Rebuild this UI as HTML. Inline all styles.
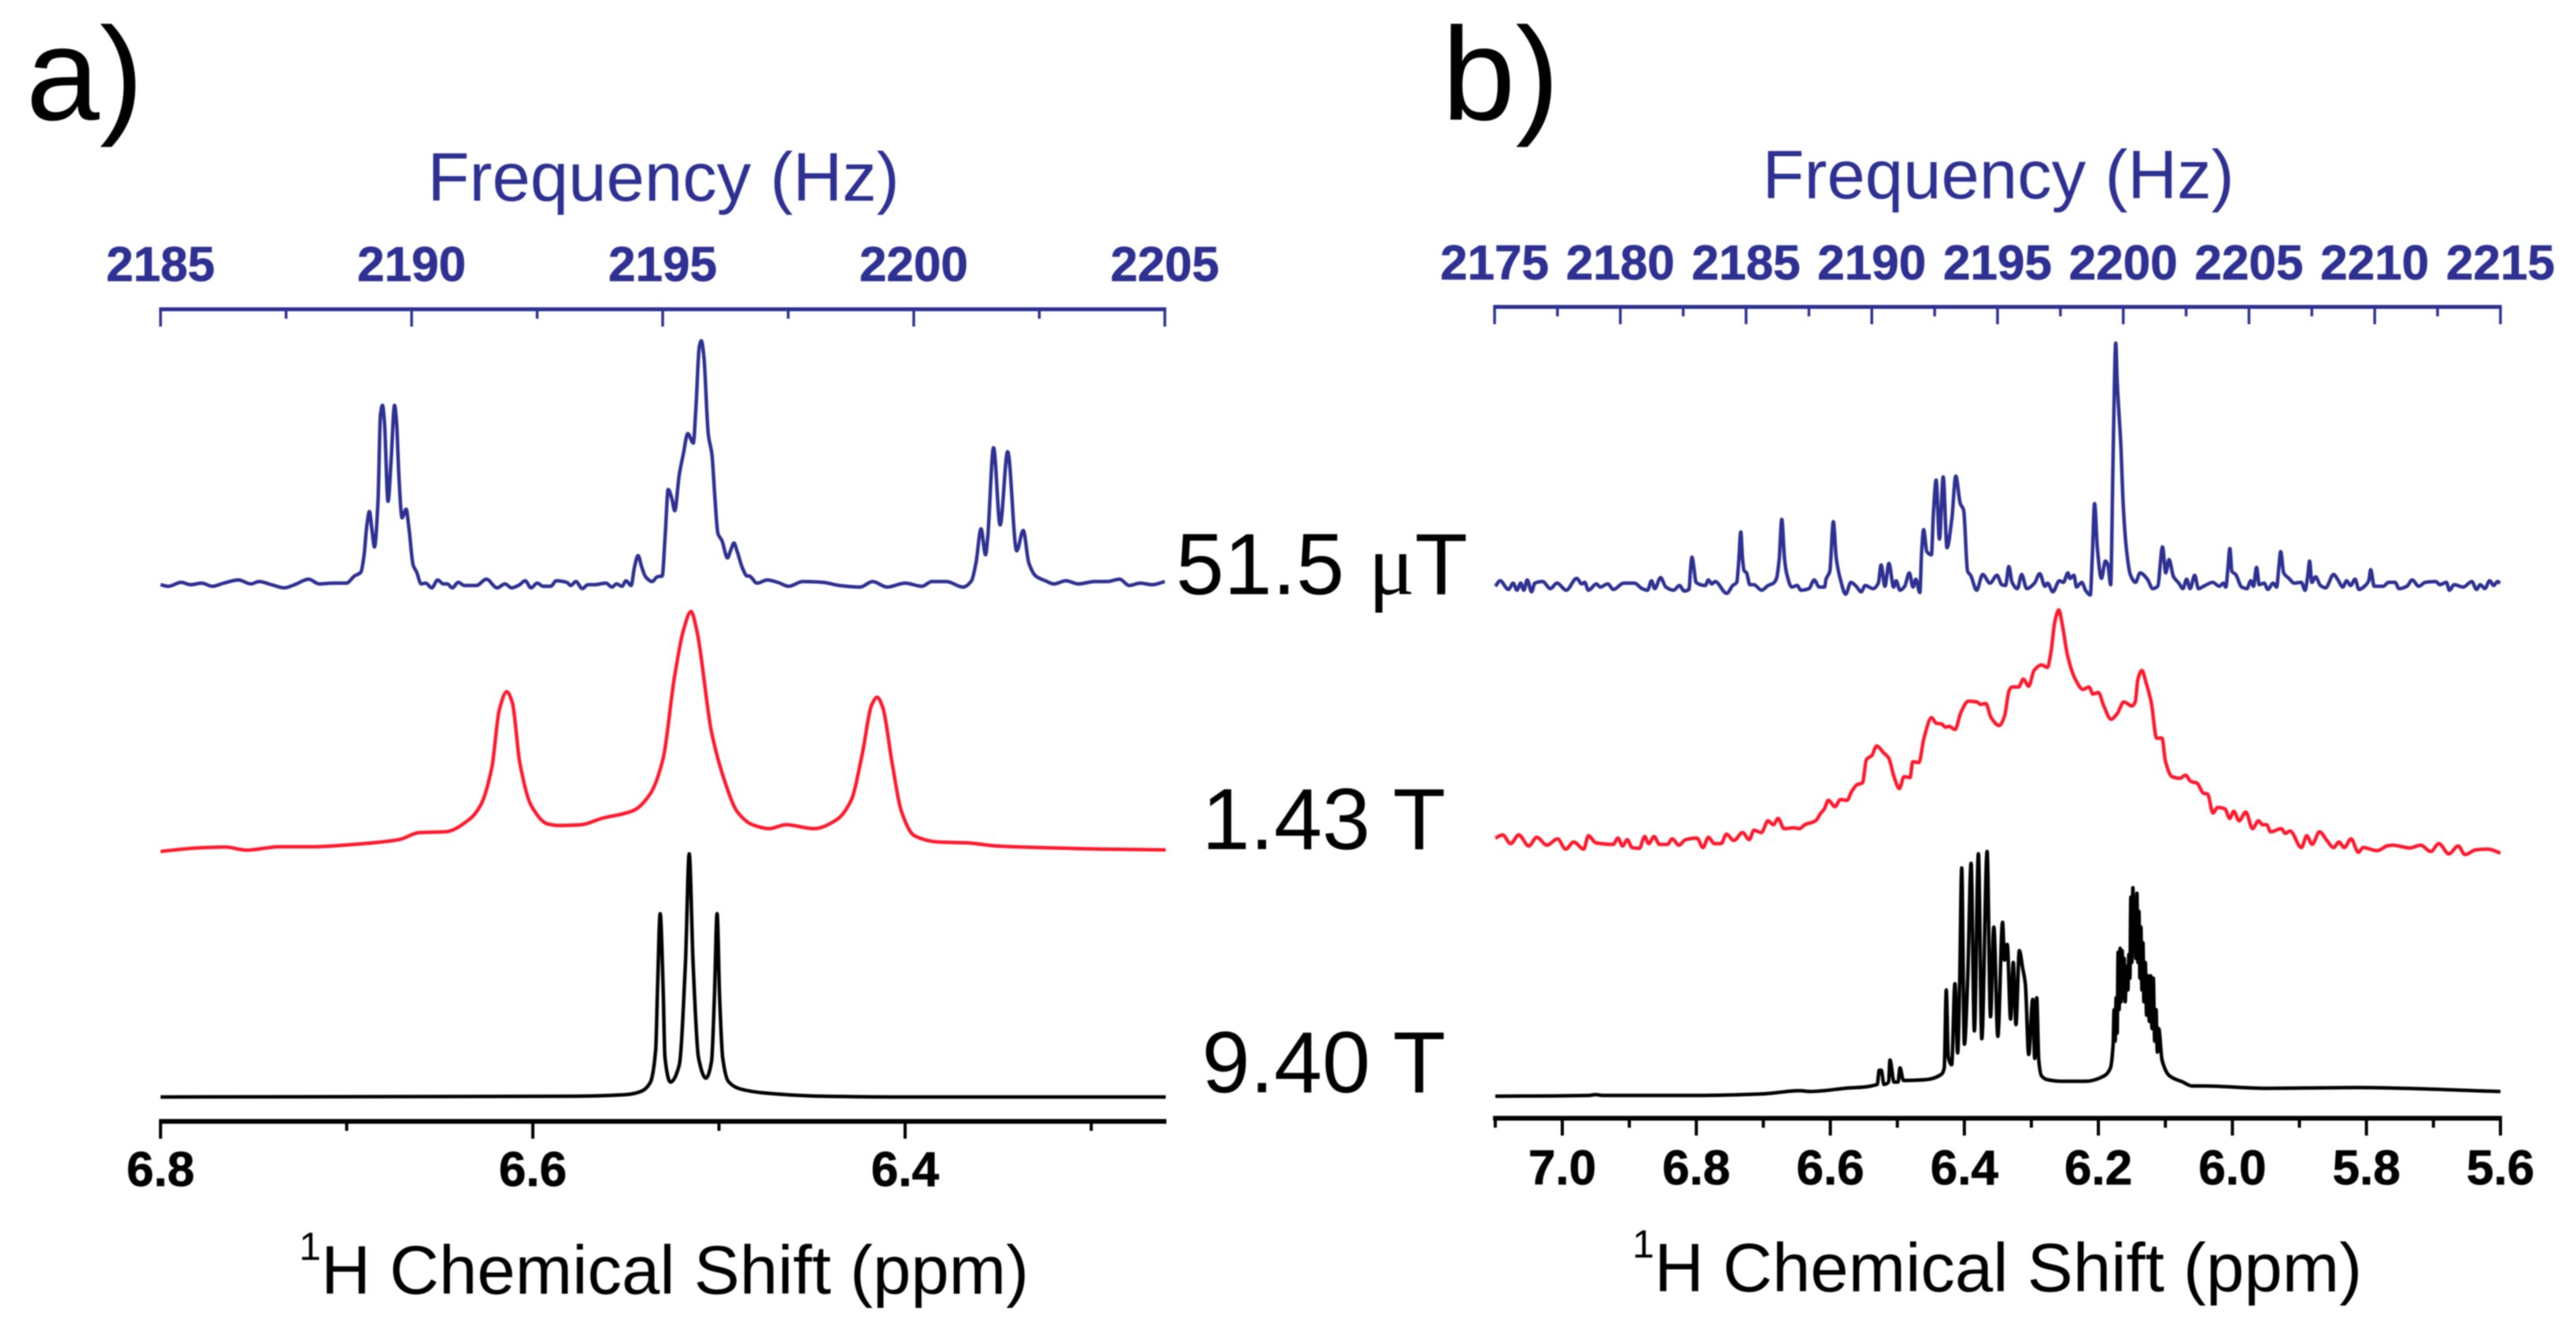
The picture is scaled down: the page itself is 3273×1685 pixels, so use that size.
<!DOCTYPE html>
<html lang="en">
<head>
<meta charset="utf-8">
<title>NMR spectra at three magnetic fields</title>
<style>
html,body{margin:0;padding:0;background:#fff;width:3273px;height:1685px;overflow:hidden}
svg{display:block;filter:blur(0.7px)}
text{font-family:"Liberation Sans",sans-serif}
.big{font-size:110px;fill:#000}
.panel{font-size:168px;fill:#000}
.hz-title{font-size:87px;fill:#2e3192}
.ppm-title{font-size:87px;fill:#000}
.sup{font-size:50px;fill:#000}
</style>
</head>
<body>
<svg id="chart" xmlns="http://www.w3.org/2000/svg" width="3273" height="1685" viewBox="0 0 3273 1685">
<rect x="0" y="0" width="3273" height="1685" fill="#fff"/>
<text class="panel" x="33" y="152">a)</text>
<text class="panel" x="1832" y="152">b)</text>
<text class="hz-title" x="843" y="255" text-anchor="middle">Frequency (Hz)</text>
<text class="hz-title" x="2539" y="252" text-anchor="middle">Frequency (Hz)</text>
<text class="sup" x="380" y="1601">1</text>
<text class="ppm-title" x="408" y="1644">H Chemical Shift (ppm)</text>
<text class="sup" x="2074" y="1598">1</text>
<text class="ppm-title" x="2102" y="1641">H Chemical Shift (ppm)</text>
<text class="big" x="1494" y="755">51.5 <tspan font-family="'Liberation Serif',serif">μ</tspan>T</text>
<text class="big" x="1527" y="1079">1.43 T</text>
<text class="big" x="1527" y="1388">9.40 T</text>
<g id="marks"></g>
</svg>
<script>
// Panel a, 51.5 uT trace (x in Hz, intensity in a.u.)
const aBlueHz = [2185,2185.16,2185.41,2185.6,2185.82,2186.03,2186.26,2186.55,2186.8,2186.96,2187.21,2187.46,2187.67,2187.95,2188.16,2188.44,2188.54,2188.7,2188.86,2188.99,2189.05,2189.11,2189.16,2189.21,2189.26,2189.33,2189.38,2189.42,2189.46,2189.53,2189.59,2189.66,2189.7,2189.75,2189.81,2189.89,2189.95,2190.03,2190.1,2190.19,2190.28,2190.4,2190.52,2190.63,2190.71,2190.81,2190.93,2191.05,2191.29,2191.49,2191.7,2191.86,2191.99,2192.15,2192.26,2192.38,2192.5,2192.62,2192.77,2192.88,2193.09,2193.17,2193.27,2193.4,2193.51,2193.64,2193.87,2193.99,2194.08,2194.19,2194.27,2194.37,2194.44,2194.51,2194.58,2194.66,2194.79,2194.89,2194.99,2195.05,2195.11,2195.18,2195.24,2195.33,2195.41,2195.5,2195.61,2195.66,2195.73,2195.77,2195.82,2195.91,2195.98,2196.04,2196.1,2196.18,2196.29,2196.35,2196.42,2196.48,2196.59,2196.68,2196.72,2196.88,2197.08,2197.29,2197.51,2197.79,2198.19,2198.52,2198.93,2199.18,2199.47,2199.83,2200.16,2200.36,2200.65,2200.98,2201.15,2201.24,2201.34,2201.43,2201.47,2201.59,2201.72,2201.87,2202.05,2202.18,2202.29,2202.43,2202.62,2202.79,2203.03,2203.28,2203.6,2203.85,2204.1,2204.29,2204.51,2204.75,2205];
const aBlueAmp = [-1,-3,2,-1,1,-3,1,5,0,3,-1,-5,-1,6,0,1,1,1,10,15,35,75,92,69,47,105,215,227,205,105,155,227,205,132,84,95,69,24,15,0,1,-5,5,0,0,-5,2,-2,-2,6,-5,0,-5,-1,4,-5,1,-3,-3,4,2,-2,3,-6,-1,-1,1,-4,0,-3,4,-2,22,36,22,9,3,9,10,62,120,109,93,139,165,191,179,222,302,309,289,189,165,109,64,55,33,42,52,42,20,10,10,1,5,2,-3,3,2,-2,-4,3,-4,1,-3,3,3,-4,4,27,70,37,57,173,75,168,42,68,27,10,4,0,4,0,3,3,6,-2,1,-1,3];

// Panel a, 1.43 T trace (x in ppm)
const aRedPpm = [6.8,6.78,6.765,6.754,6.736,6.718,6.696,6.672,6.661,6.647,6.634,6.628,6.622,6.618,6.614,6.611,6.607,6.601,6.592,6.586,6.574,6.563,6.546,6.537,6.53,6.524,6.519,6.515,6.512,6.504,6.497,6.49,6.482,6.473,6.464,6.449,6.437,6.429,6.423,6.418,6.415,6.412,6.407,6.402,6.395,6.382,6.367,6.351,6.32,6.294,6.26];
const aRedAmp = [0,4.5,5.6,1.7,6,6,9,15,24,25,41,59,107,180,203,189,113,59,35,33,34,42,52,73,118,220,282,305,282,152,90,50,34,29,34,29,40,65,124,186,196,183,113,51,20,12,11,7,4.5,3,2];

// Panel a, 9.40 T trace (x in ppm)
const aBlackPpm = [6.8,6.665,6.577,6.55,6.542,6.537,6.534,6.533,6.5316,6.53,6.529,6.526,6.5214,6.518,6.516,6.5139,6.511,6.507,6.504,6.5024,6.501,6.4997,6.498,6.495,6.4882,6.475,6.444,6.4,6.26];
const aBlackAmp = [0,0.5,1,3,7,18,60,140,233,140,50,19,40,170,309,170,50,24,45,130,233,130,50,20,10,5,1,0,0];

// Panel b, 51.5 uT trace (x in Hz)
const bBlueHz = [2175.03,2175.22,2175.55,2175.74,2175.89,2176.04,2176.16,2176.3,2176.47,2176.6,2176.91,2177.22,2177.48,2177.85,2178.26,2178.47,2178.58,2178.73,2179.05,2179.2,2179.5,2179.72,2180.14,2180.56,2180.87,2181.08,2181.24,2181.37,2181.6,2181.81,2182.12,2182.35,2182.54,2182.73,2182.8,2182.85,2182.92,2183.01,2183.38,2183.5,2183.64,2183.77,2184.23,2184.47,2184.63,2184.71,2184.79,2184.86,2184.92,2185.02,2185.15,2185.31,2185.62,2185.88,2186.09,2186.21,2186.32,2186.42,2186.53,2186.61,2186.82,2187.03,2187.18,2187.5,2187.71,2187.91,2188.12,2188.18,2188.33,2188.47,2188.59,2188.75,2188.96,2189.17,2189.38,2189.58,2189.74,2190.05,2190.26,2190.37,2190.52,2190.68,2190.87,2190.97,2191.12,2191.31,2191.49,2191.64,2191.75,2191.91,2191.98,2192.06,2192.19,2192.37,2192.45,2192.56,2192.69,2192.84,2192.99,2193.18,2193.34,2193.52,2193.65,2193.81,2193.93,2194.17,2194.41,2194.7,2194.98,2195.17,2195.32,2195.45,2195.58,2195.79,2195.96,2196.16,2196.47,2196.68,2196.89,2196.99,2197.2,2197.46,2197.62,2197.8,2197.88,2198.04,2198.14,2198.35,2198.5,2198.69,2198.77,2198.86,2198.97,2199.13,2199.29,2199.39,2199.5,2199.58,2199.65,2199.7,2199.76,2199.91,2199.99,2200.12,2200.28,2200.49,2200.67,2200.96,2201.17,2201.37,2201.56,2201.69,2201.82,2202,2202.21,2202.37,2202.52,2202.66,2202.84,2202.99,2203.25,2203.56,2203.82,2203.98,2204.08,2204.16,2204.24,2204.32,2204.47,2204.71,2204.92,2205.07,2205.18,2205.3,2205.41,2205.6,2205.75,2205.96,2206.1,2206.19,2206.26,2206.38,2206.59,2206.8,2207.08,2207.23,2207.34,2207.41,2207.5,2207.65,2207.84,2208.05,2208.36,2208.54,2208.73,2208.88,2209.04,2209.22,2209.37,2209.66,2209.77,2209.84,2209.98,2210.34,2210.55,2210.81,2210.97,2211.28,2211.49,2211.75,2212.01,2212.43,2212.59,2212.85,2212.97,2213.16,2213.52,2213.86,2214.05,2214.2,2214.38,2214.57,2214.73,2214.88,2214.99];
const bBlueAmp = [-2,5,-6,2,-7,2,-7,6,-9,2,4,-5,2,-7,8,1,3,-7,1,-3,1,-6,2,2,-5,-7,5,-5,9,-3,-7,-1,-8,-6,23,35,23,3,-1,6,1,4,-11,-1,3,30,67,33,18,15,0,0,-7,-1,2,8,33,83,33,15,-3,-1,-7,-5,6,-3,-3,7,17,80,33,7,-12,3,-2,-9,-1,-5,2,25,-2,27,-3,5,-7,-2,15,-3,7,-10,40,70,42,38,90,133,58,137,47,83,138,103,95,17,12,-7,13,2,12,0,-1,23,3,-5,13,-5,2,14,-2,2,-9,5,3,15,8,12,-3,3,-7,-13,37,103,47,8,30,25,0,130,257,307,257,173,107,47,13,3,15,7,-5,-2,48,15,32,10,2,-5,7,-5,12,-5,-1,3,-2,2,-3,20,46,17,13,-3,-5,5,-2,22,0,2,-6,2,-3,23,42,15,8,2,3,-7,12,30,3,10,-1,-4,13,6,-3,5,-1,7,-6,0,6,19,-2,-2,3,3,-5,-2,6,-2,3,4,0,3,-7,0,-3,4,-6,0,-5,5,-1,4,2];

// Panel b, 1.43 T trace (x in ppm)
const bRedPpm = [7.1,7.089,7.077,7.065,7.05,7.038,7.023,7.007,6.995,6.983,6.968,6.961,6.95,6.924,6.917,6.91,6.903,6.896,6.885,6.877,6.871,6.863,6.855,6.843,6.836,6.826,6.816,6.799,6.79,6.782,6.773,6.763,6.755,6.744,6.731,6.721,6.714,6.703,6.693,6.685,6.678,6.669,6.654,6.646,6.638,6.622,6.614,6.609,6.603,6.593,6.585,6.575,6.569,6.56,6.552,6.546,6.538,6.531,6.52,6.513,6.505,6.497,6.49,6.481,6.477,6.468,6.46,6.449,6.442,6.434,6.428,6.423,6.414,6.405,6.394,6.381,6.376,6.368,6.36,6.348,6.34,6.333,6.329,6.319,6.312,6.304,6.296,6.285,6.276,6.271,6.265,6.259,6.254,6.246,6.235,6.223,6.214,6.208,6.2,6.192,6.181,6.172,6.162,6.15,6.145,6.141,6.135,6.129,6.121,6.113,6.105,6.1,6.09,6.078,6.07,6.062,6.053,6.043,6.037,6.029,6.022,6.011,6.004,5.998,5.99,5.98,5.97,5.961,5.955,5.949,5.943,5.927,5.921,5.914,5.897,5.889,5.881,5.87,5.859,5.849,5.841,5.833,5.823,5.812,5.805,5.784,5.769,5.761,5.735,5.719,5.704,5.692,5.677,5.663,5.653,5.637,5.619,5.6];
const bRedAmp = [17,21,10,21,7,18,8,16,3,12,3,20,11,9,17,7,15,5,4,19,10,19,9,9,16,8,15,17,5,18,10,10,22,14,24,15,27,24,39,34,42,29,30,29,34,39,49,54,65,57,66,65,75,85,87,117,122,134,125,119,95,80,95,94,114,113,145,170,163,162,158,159,155,177,191,190,187,188,170,160,172,205,209,209,219,210,230,237,234,252,292,307,289,249,220,206,209,200,202,185,168,175,190,185,190,219,230,215,189,144,144,115,95,93,97,89,87,74,73,49,56,54,42,51,39,50,29,39,34,34,25,29,23,26,5,20,9,25,14,5,12,5,16,-1,5,1,7,8,4.5,8,0,10,-3,7,-4,2,3,-2];

// Panel b, 9.40 T trace (x in ppm)
const bBlackPpm = [7.1,6.96,6.95,6.94,6.8,6.7,6.646,6.63,6.579,6.53,6.527,6.524,6.52,6.513,6.511,6.505,6.499,6.496,6.491,6.458,6.434,6.43,6.427,6.424,6.419,6.414,6.41,6.407,6.404,6.4,6.395,6.39,6.385,6.379,6.374,6.366,6.361,6.356,6.35,6.343,6.34,6.336,6.331,6.327,6.323,6.318,6.313,6.309,6.304,6.298,6.295,6.292,6.289,6.285,6.276,6.254,6.219,6.191,6.182,6.178,6.1765,6.175,6.1735,6.172,6.1705,6.169,6.1675,6.166,6.1645,6.163,6.1615,6.16,6.158,6.156,6.1545,6.153,6.1515,6.15,6.1485,6.147,6.1455,6.144,6.1425,6.141,6.1395,6.138,6.1365,6.135,6.1335,6.132,6.13,6.128,6.126,6.124,6.122,6.12,6.118,6.116,6.114,6.112,6.11,6.105,6.094,6.074,6.06,6.043,5.949,5.815,5.6];
const bBlackAmp = [0,1,2,1,1,3,7,6,10,15,33,33,15,18,46,18,18,36,20,21,28,36,135,50,40,143,55,143,290,66,150,296,83,308,73,311,101,215,76,221,173,193,98,170,91,185,163,143,53,123,48,125,46,26,21,19,19,26,36,66,110,70,125,80,183,110,188,120,185,125,175,120,165,135,180,150,253,170,265,186,243,175,258,170,235,150,215,135,195,120,170,103,153,95,153,86,150,70,110,56,86,46,26,18,13,13,10,11,6,4.5];

// Tick labels and tick values
const aHzMajor = [2185,2190,2195,2200,2205];
const aHzMinor = [2187.5,2192.5,2197.5,2202.5];
const aPpmMajor = [6.8,6.6,6.4];
const aPpmMinor = [6.7,6.5,6.3];
const bHzMajor = [2175,2180,2185,2190,2195,2200,2205,2210,2215];
const bHzMinor = [2177.5,2182.5,2187.5,2192.5,2197.5,2202.5,2207.5,2212.5];
const bPpmMajor = [7.0,6.8,6.6,6.4,6.2,6.0,5.8,5.6];
const bPpmMinor = [7.1,6.9,6.7,6.5,6.3,6.1,5.9,5.7];

const BLUE = '#2e3192';
const RED = '#ff1a2e';
const NS = 'http://www.w3.org/2000/svg';
const marks = document.getElementById('marks');

// Axis functions
function aHzX(v){ return 204 + (v - 2185) * (1276 / 20); }
function aPpmX(v){ return 204 + (6.8 - v) * (473 / 0.2); }
function bHzX(v){ return 1899 + (v - 2175) * (1278 / 40); }
function bPpmX(v){ return 1985 + (7.0 - v) * (1192 / 1.4); }
function traceY(base, v){ return base - v; }

// Monotone cubic path through the data points: smooth, with no overshoot
function smoothPath(px, py){
  const n = px.length;
  const h = [], s = [], m = [];
  for (let i = 0; i < n - 1; i++) {
    h[i] = px[i + 1] - px[i];
    s[i] = (py[i + 1] - py[i]) / h[i];
  }
  m[0] = s[0];
  m[n - 1] = s[n - 2];
  for (let i = 1; i < n - 1; i++) {
    if (s[i - 1] * s[i] <= 0) {
      m[i] = 0;
    } else {
      const w1 = 2 * h[i] + h[i - 1];
      const w2 = h[i] + 2 * h[i - 1];
      m[i] = (w1 + w2) / (w1 / s[i - 1] + w2 / s[i]);
    }
  }
  let d = 'M' + px[0].toFixed(1) + ' ' + py[0].toFixed(1);
  for (let i = 0; i < n - 1; i++) {
    const c1x = px[i] + h[i] / 3;
    const c1y = py[i] + m[i] * h[i] / 3;
    const c2x = px[i + 1] - h[i] / 3;
    const c2y = py[i + 1] - m[i + 1] * h[i] / 3;
    d += 'C' + c1x.toFixed(1) + ' ' + c1y.toFixed(1) + ' ' + c2x.toFixed(1) + ' ' + c2y.toFixed(1) + ' ' + px[i + 1].toFixed(1) + ' ' + py[i + 1].toFixed(1);
  }
  return d;
}

function drawTrace(name, xs, ys, xFn, base, color, width){
  const px = xs.map(xFn);
  const py = ys.map(function(v){ return traceY(base, v); });
  const p = document.createElementNS(NS, 'path');
  p.setAttribute('d', smoothPath(px, py));
  p.setAttribute('fill', 'none');
  p.setAttribute('stroke', color);
  p.setAttribute('stroke-width', width);
  p.setAttribute('stroke-linejoin', 'round');
  
  
  marks.appendChild(p);
}

function drawAxis(name, x0, x1, y, dir, major, minor, xFn, color, lineW, tickW, majorLen, minorLen, labelY, fmt){
  const g = document.createElementNS(NS, 'g');
  
  
  marks.appendChild(g);
  const line = document.createElementNS(NS, 'line');
  line.setAttribute('x1', x0 - tickW / 2);
  line.setAttribute('x2', x1 + tickW / 2);
  line.setAttribute('y1', y);
  line.setAttribute('y2', y);
  line.setAttribute('stroke', color);
  line.setAttribute('stroke-width', lineW);
  
  
  g.appendChild(line);
  function tick(v, len){
    const t = document.createElementNS(NS, 'line');
    const x = xFn(v);
    t.setAttribute('x1', x);
    t.setAttribute('x2', x);
    t.setAttribute('y1', y);
    t.setAttribute('y2', y + dir * len);
    t.setAttribute('stroke', color);
    t.setAttribute('stroke-width', tickW);
    
    
    g.appendChild(t);
  }
  minor.forEach(function(v){ tick(v, minorLen); });
  major.forEach(function(v){
    tick(v, majorLen);
    const lab = document.createElementNS(NS, 'text');
    lab.setAttribute('x', xFn(v));
    lab.setAttribute('y', labelY);
    lab.setAttribute('text-anchor', 'middle');
    lab.setAttribute('font-size', '62');
    lab.setAttribute('font-weight', '700');
    lab.setAttribute('fill', color);
    lab.setAttribute('stroke', color);
    lab.setAttribute('stroke-width', '0.8');
    
    
    lab.textContent = fmt(v);
    g.appendChild(lab);
  });
}

const fmtHz = function(v){ return String(v); };
const fmtPpm = function(v){ return v.toFixed(1); };

drawAxis('panel-a-frequency-axis', 204, 1480, 393, 1, aHzMajor, aHzMinor, aHzX, BLUE, 5, 3.5, 22, 12, 357, fmtHz);
drawAxis('panel-a-chemical-shift-axis', 204, 1480, 1425, 1, aPpmMajor, aPpmMinor, aPpmX, '#000', 6, 4, 22, 12, 1507, fmtPpm);
drawAxis('panel-b-frequency-axis', 1899, 3177, 390, 1, bHzMajor, bHzMinor, bHzX, BLUE, 5, 3.5, 22, 12, 355, fmtHz);
drawAxis('panel-b-chemical-shift-axis', 1899, 3177, 1421, 1, bPpmMajor, bPpmMinor, bPpmX, '#000', 6, 4, 22, 12, 1505, fmtPpm);

drawTrace('panel-a-trace-51-5-microtesla', aBlueHz, aBlueAmp, aHzX, 742, BLUE, 4.5);
drawTrace('panel-a-trace-1-43-tesla', aRedPpm, aRedAmp, aPpmX, 1082, RED, 4.5);
drawTrace('panel-a-trace-9-40-tesla', aBlackPpm, aBlackAmp, aPpmX, 1394, '#000', 4.5);
drawTrace('panel-b-trace-51-5-microtesla', bBlueHz, bBlueAmp, bHzX, 743, BLUE, 4.5);
drawTrace('panel-b-trace-1-43-tesla', bRedPpm, bRedAmp, bPpmX, 1082, RED, 4.5);
drawTrace('panel-b-trace-9-40-tesla', bBlackPpm, bBlackAmp, bPpmX, 1393, '#000', 4.5);
</script>
</body>
</html>
